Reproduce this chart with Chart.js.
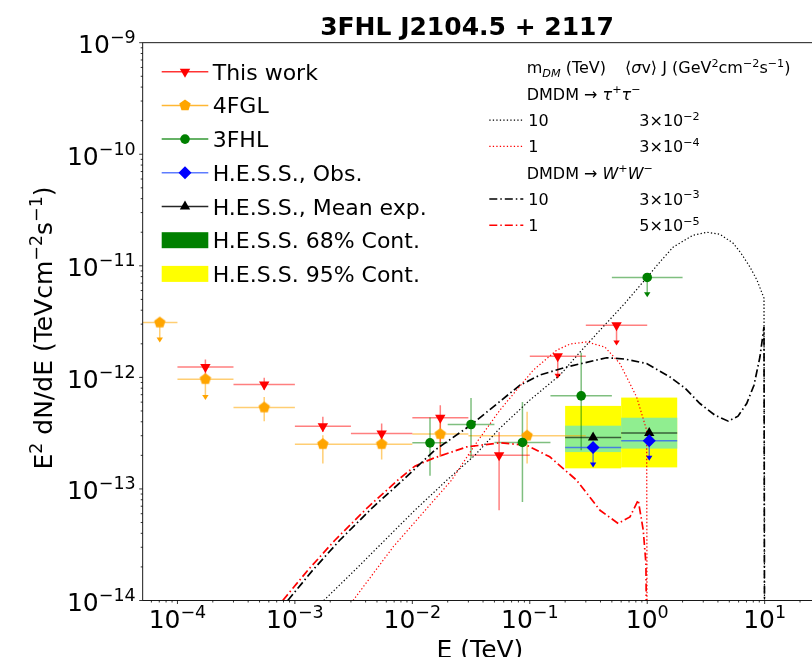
<!DOCTYPE html>
<html>
<head>
<meta charset="utf-8">
<script src="https://cdn.jsdelivr.net/npm/chart.js@4.4.0/dist/chart.umd.min.js"></script>
<style>
html, body { margin: 0; padding: 0; background: #fff; overflow: hidden; }
canvas { display: block; }
</style>
</head>
<body>
<canvas id="c" width="830" height="657"></canvas>
<script>
// This work (red, down triangles)
const twE = [1.73e-4, 5.48e-4, 1.73e-3, 5.48e-3, 1.73e-2, 5.48e-2, 0.173, 0.548];
const twLo = [1e-4, 3e-4, 1e-3, 3e-3, 1e-2, 3e-2, 0.1, 0.3];
const twHi = [3e-4, 1e-3, 3e-3, 1e-2, 3e-2, 0.1, 0.3, 1.0];
const twF = [1.24e-12, 8.63e-13, 3.65e-13, 3.14e-13, 4.34e-13, 2.0e-13, 1.55e-12, 2.94e-12];
const twUp = [1.45e-12, 9.9e-13, 4.43e-13, 3.86e-13, 5.63e-13, 3.24e-13, null, null];
const twDown = [1.05e-12, 7.7e-13, 3.24e-13, 2.55e-13, 1.94e-13, 6.44e-14, 9.84e-13, 1.95e-12];
const twUL = [0, 0, 0, 0, 0, 0, 1, 1];

// 4FGL (orange pentagons)
const fglE = [7.07e-5, 1.73e-4, 5.48e-4, 1.73e-3, 5.48e-3, 1.73e-2, 9.49e-2];
const fglLo = [5e-5, 1e-4, 3e-4, 1e-3, 3e-3, 1e-2, 3e-2];
const fglHi = [1e-4, 3e-4, 1e-3, 3e-3, 1e-2, 3e-2, 0.3];
const fglF = [3.1e-12, 9.64e-13, 5.37e-13, 2.52e-13, 2.52e-13, 3.1e-13, 3.0e-13];
const fglUp = [null, null, 6.68e-13, 3.03e-13, 2.92e-13, 4.13e-13, 4.91e-13];
const fglDown = [2.08e-12, 6.34e-13, 4.05e-13, 1.69e-13, 1.84e-13, 1.94e-13, 1.69e-13];
const fglUL = [1, 1, 0, 0, 0, 0, 0];

// 3FHL (green circles)
const fhlE = [0.01414, 0.0316, 0.0866, 0.274, 1.0];
const fhlLo = [0.01, 0.02, 0.05, 0.15, 0.5];
const fhlHi = [0.02, 0.05, 0.15, 0.5, 2.0];
const fhlF = [2.59e-13, 3.78e-13, 2.61e-13, 6.83e-13, 7.87e-12];
const fhlUp = [4.37e-13, 6.55e-13, 6.03e-13, 1.66e-12, null];
const fhlDown = [1.31e-13, 1.88e-13, 7.64e-14, 2.22e-13, 5.27e-12];
const fhlUL = [0, 0, 0, 0, 1];

// H.E.S.S.
const hessE = [0.346, 1.04];
const hessLo = [0.2, 0.6];
const hessHi = [0.6, 1.8];
const hessObs = [2.35e-13, 2.70e-13];
const hessObsDown = [1.57e-13, 1.81e-13];
const hessMean = [2.89e-13, 3.18e-13];
const hess68Lo = [2.14e-13, 2.3e-13];
const hess68Hi = [3.69e-13, 4.35e-13];
const hess95Lo = [1.53e-13, 1.56e-13];
const hess95Hi = [5.55e-13, 6.59e-13];

// DM model spectra
const tau10E = [1.76e-3, 3.24e-3, 5.83e-3, 1.05e-2, 1.97e-2, 3.40e-2, 5.56e-2, 0.100, 0.181, 0.267, 0.396, 0.646, 1.0, 1.28, 1.66, 2.45, 3.22, 4.16, 5.37, 6.28, 7.5, 8.6, 9.87, 10.0];
const tau10F = [1.0e-14, 1.87e-14, 3.47e-14, 6.44e-14, 1.20e-13, 2.0e-13, 3.50e-13, 6.25e-13, 1.05e-12, 1.68e-12, 2.65e-12, 4.62e-12, 7.92e-12, 1.08e-11, 1.47e-11, 1.88e-11, 2.0e-11, 1.92e-11, 1.60e-11, 1.30e-11, 9.75e-12, 7.45e-12, 5.13e-12, 1e-15];
const tau1E = [3.13e-3, 6.86e-3, 2.16e-2, 3.40e-2, 5.56e-2, 0.107, 0.169, 0.220, 0.305, 0.436, 0.585, 0.812, 0.989, 1.0];
const tau1F = [1e-14, 3.02e-14, 1.20e-13, 2.47e-13, 5.08e-13, 1.16e-12, 1.75e-12, 1.99e-12, 2.08e-12, 1.87e-12, 1.33e-12, 6.68e-13, 3.36e-13, 1e-15];
const ww10E = [8.70e-4, 1.42e-3, 2.41e-3, 4.61e-3, 8.30e-3, 1.55e-2, 3.19e-2, 8.24e-2, 0.122, 0.206, 0.451, 0.646, 0.989, 1.56, 2.10, 2.81, 3.77, 4.90, 5.93, 7.03, 8.11, 9.12, 9.87, 10.0];
const ww10F = [1e-14, 1.87e-14, 3.47e-14, 6.85e-14, 1.20e-13, 2.22e-13, 3.78e-13, 8.51e-13, 1.05e-12, 1.24e-12, 1.50e-12, 1.46e-12, 1.33e-12, 1.01e-12, 8.0e-13, 5.83e-13, 4.58e-13, 4.05e-13, 4.49e-13, 5.83e-13, 8.51e-13, 1.53e-12, 2.84e-12, 1e-15];
const ww1E = [7.88e-4, 1.29e-3, 2.19e-3, 4.18e-3, 7.52e-3, 1.05e-2, 1.50e-2, 2.90e-2, 5.56e-2, 9.39e-2, 0.148, 0.250, 0.325, 0.396, 0.566, 0.713, 0.838, 0.925, 0.975, 1.0];
const ww1F = [1e-14, 1.87e-14, 3.47e-14, 6.85e-14, 1.20e-13, 1.60e-13, 1.88e-13, 2.38e-13, 2.59e-13, 2.47e-13, 1.94e-13, 1.20e-13, 8.43e-14, 6.44e-14, 4.90e-14, 5.61e-14, 7.93e-14, 4.27e-14, 2.14e-14, 1e-15];

const xTickExp = [-4, -3, -2, -1, 0, 1];
const yTickExp = [-14, -13, -12, -11, -10, -9];

const FAM = '"DejaVu Sans"';
const DOT = [1.3, 2.2];
const DASHDOT = [8, 3, 1.5, 3];

function pts(E, F) { return E.map((e, i) => ({ x: e, y: F[i] })); }

function pentagon(color, r) {
    var cv = document.createElement('canvas');
    var s = Math.ceil(2 * r + 2);
    cv.width = cv.height = s;
    var g = cv.getContext('2d');
    g.fillStyle = color;
    g.beginPath();
    for (var k = 0; k < 5; k++) {
        var a = -Math.PI / 2 + k * 2 * Math.PI / 5;
        g.lineTo(s / 2 + r * Math.cos(a), s / 2 + r * Math.sin(a));
    }
    g.closePath();
    g.fill();
    return cv;
}

// parts: [text, mode]  0 normal, 1 sup, 2 sub, 3 italic, 4 italic sub
function rich(ctx, parts, x, y, size, align, bold) {
    var fnt = m => (m === 3 || m === 4 ? 'italic ' : '') + (bold ? 'bold ' : '') + ((m === 1 || m === 2 || m === 4) ? size * 0.7 : size) + 'px ' + FAM;
    var w = 0;
    parts.forEach(p => { ctx.font = fnt(p[1]); w += ctx.measureText(p[0]).width; });
    var cx = align === 'right' ? x - w : align === 'center' ? x - w / 2 : x;
    ctx.textAlign = 'left';
    ctx.textBaseline = 'alphabetic';
    parts.forEach(p => {
        ctx.font = fnt(p[1]);
        var dy = p[1] === 1 ? -size * 0.4 : (p[1] === 2 || p[1] === 4) ? size * 0.22 : 0;
        ctx.fillText(p[0], cx, y + dy);
        cx += ctx.measureText(p[0]).width;
    });
    return w;
}

function seg(ctx, x1, y1, x2, y2) {
    ctx.beginPath(); ctx.moveTo(x1, y1); ctx.lineTo(x2, y2); ctx.stroke();
}

function arrowHead(ctx, x, y, color) {
    ctx.save();
    ctx.fillStyle = color;
    ctx.beginPath();
    ctx.moveTo(x - 3.2, y - 4.5);
    ctx.lineTo(x + 3.2, y - 4.5);
    ctx.lineTo(x, y + 0.5);
    ctx.closePath();
    ctx.fill();
    ctx.restore();
}

function errBars(ctx, c, E, lo, hi, F, up, down, ul, line, head) {
    var sx = c.scales.x, sy = c.scales.y;
    ctx.save();
    ctx.strokeStyle = line;
    ctx.lineWidth = 1.5;
    for (var i = 0; i < E.length; i++) {
        var x = sx.getPixelForValue(E[i]);
        var y = sy.getPixelForValue(F[i]);
        seg(ctx, sx.getPixelForValue(lo[i]), y, sx.getPixelForValue(hi[i]), y);
        if (ul[i]) {
            var y2 = sy.getPixelForValue(down[i]);
            seg(ctx, x, y, x, y2 - 3);
            arrowHead(ctx, x, y2, head);
        } else {
            seg(ctx, x, sy.getPixelForValue(up[i]), x, sy.getPixelForValue(down[i]));
        }
    }
    ctx.restore();
}

function marker(ctx, kind, x, y, color) {
    ctx.save();
    ctx.fillStyle = color;
    ctx.beginPath();
    if (kind === 'down' || kind === 'up') {
        var r = 6, s = kind === 'down' ? 1 : -1;
        ctx.moveTo(x, y + s * r);
        ctx.lineTo(x - r * 0.866, y - s * r / 2);
        ctx.lineTo(x + r * 0.866, y - s * r / 2);
    } else if (kind === 'pent') {
        for (var k = 0; k < 5; k++) {
            var a = -Math.PI / 2 + k * 2 * Math.PI / 5;
            ctx.lineTo(x + 6 * Math.cos(a), y + 6 * Math.sin(a));
        }
    } else if (kind === 'circle') {
        ctx.arc(x, y, 4.8, 0, Math.PI * 2);
    } else if (kind === 'diamond') {
        ctx.moveTo(x, y - 6.5); ctx.lineTo(x + 6.5, y); ctx.lineTo(x, y + 6.5); ctx.lineTo(x - 6.5, y);
    }
    ctx.closePath();
    ctx.fill();
    ctx.restore();
}

const deco = {
    id: 'deco',
    beforeDatasetsDraw(c) {
        var ctx = c.ctx, a = c.chartArea, sx = c.scales.x, sy = c.scales.y;
        ctx.save();
        ctx.beginPath();
        ctx.rect(a.left, a.top, a.right - a.left, a.bottom - a.top);
        ctx.clip();
        for (var i = 0; i < hessE.length; i++) {
            var x1 = sx.getPixelForValue(hessLo[i]), x2 = sx.getPixelForValue(hessHi[i]);
            ctx.fillStyle = '#ffff00';
            ctx.fillRect(x1, sy.getPixelForValue(hess95Hi[i]), x2 - x1, sy.getPixelForValue(hess95Lo[i]) - sy.getPixelForValue(hess95Hi[i]));
            ctx.fillStyle = '#90ee90';
            ctx.fillRect(x1, sy.getPixelForValue(hess68Hi[i]), x2 - x1, sy.getPixelForValue(hess68Lo[i]) - sy.getPixelForValue(hess68Hi[i]));
        }
        errBars(ctx, c, fglE, fglLo, fglHi, fglF, fglUp, fglDown, fglUL, 'rgba(255,165,0,0.55)', '#ffa500');
        errBars(ctx, c, twE, twLo, twHi, twF, twUp, twDown, twUL, 'rgba(255,0,0,0.5)', '#ff0000');
        errBars(ctx, c, fhlE, fhlLo, fhlHi, fhlF, fhlUp, fhlDown, fhlUL, 'rgba(0,128,0,0.5)', '#008000');
        ctx.lineWidth = 1.5;
        for (var j = 0; j < hessE.length; j++) {
            var xa = sx.getPixelForValue(hessLo[j]), xb = sx.getPixelForValue(hessHi[j]), xc = sx.getPixelForValue(hessE[j]);
            ctx.strokeStyle = 'rgba(0,0,0,0.6)';
            seg(ctx, xa, sy.getPixelForValue(hessMean[j]), xb, sy.getPixelForValue(hessMean[j]));
            ctx.strokeStyle = 'rgba(40,80,255,0.7)';
            seg(ctx, xa, sy.getPixelForValue(hessObs[j]), xb, sy.getPixelForValue(hessObs[j]));
            var yb = sy.getPixelForValue(hessObsDown[j]);
            seg(ctx, xc, sy.getPixelForValue(hessObs[j]), xc, yb - 3);
            arrowHead(ctx, xc, yb, '#0000ff');
        }
        ctx.restore();
    },
    afterDraw(c) {
        var ctx = c.ctx, a = c.chartArea, sx = c.scales.x, sy = c.scales.y;
        ctx.save();
        // frame
        ctx.strokeStyle = '#000';
        ctx.lineWidth = 0.9;
        ctx.strokeRect(a.left, a.top, a.right - a.left, a.bottom - a.top);
        // ticks
        ctx.lineWidth = 0.8;
        for (var d = -15; d <= 2; d++) {
            for (var m = 1; m <= 9; m++) {
                var v = m * Math.pow(10, d);
                var len = m === 1 ? 3.5 : 2;
                var X = sx.getPixelForValue(v);
                if (X >= a.left - 0.5 && X <= a.right + 0.5) seg(ctx, X, a.bottom, X, a.bottom + len);
                var Y = sy.getPixelForValue(v);
                if (Y >= a.top - 0.5 && Y <= a.bottom + 0.5) seg(ctx, a.left, Y, a.left - len, Y);
            }
        }
        ctx.fillStyle = '#000';
        xTickExp.forEach(e => {
            var X = sx.getPixelForValue(Math.pow(10, e));
            rich(ctx, [['10', 0], [e < 0 ? '\u2212' + (-e) : String(e), 1]], X, a.bottom + 27, 25, 'center');
        });
        yTickExp.forEach(e => {
            var Y = sy.getPixelForValue(Math.pow(10, e));
            rich(ctx, [['10', 0], ['\u2212' + (-e), 1]], a.left - 7, Y + 10.5, 25, 'right');
        });
        // axis labels
        rich(ctx, [['E (TeV)', 0]], 480, 658, 25, 'center');
        ctx.save();
        ctx.translate(52, 328);
        ctx.rotate(-Math.PI / 2);
        rich(ctx, [['E', 0], ['2', 1], [' dN/dE (TeVcm', 0], ['\u22122', 1], ['s', 0], ['\u22121', 1], [')', 0]], 0, 0, 25, 'center');
        ctx.restore();
        // title
        rich(ctx, [['3FHL J2104.5 + 2117', 0]], 467, 35, 25, 'center', true);

        // left legend
        var rows = [
            ['This work', 'down', '#ff0000', 'rgba(255,0,0,0.8)'],
            ['4FGL', 'pent', '#ffa500', 'rgba(255,165,0,0.8)'],
            ['3FHL', 'circle', '#008000', 'rgba(0,128,0,0.8)'],
            ['H.E.S.S., Obs.', 'diamond', '#0000ff', 'rgba(40,80,255,0.75)'],
            ['H.E.S.S., Mean exp.', 'up', '#000000', 'rgba(0,0,0,0.85)'],
            ['H.E.S.S. 68% Cont.', 'patch', '#008000'],
            ['H.E.S.S. 95% Cont.', 'patch', '#ffff00']
        ];
        rows.forEach((r, i) => {
            var yc = 71.7 + i * 33.7;
            if (r[1] === 'patch') {
                ctx.fillStyle = r[2];
                ctx.fillRect(161.7, yc - 8, 46.6, 16);
            } else {
                ctx.strokeStyle = r[3];
                ctx.lineWidth = 1.5;
                seg(ctx, 161.7, yc, 208.3, yc);
                marker(ctx, r[1], 185, yc, r[2]);
            }
            ctx.fillStyle = '#000';
            rich(ctx, [[r[0], 0]], 212.7, yc + 8, 22, 'left');
        });

        // DM legend
        var fs = 16, ry = i => 67.5 + i * 26.3 + 5.8;
        ctx.fillStyle = '#000';
        rich(ctx, [['m', 0], ['DM', 4], [' (TeV)', 0]], 526.7, ry(0), fs, 'left');
        rich(ctx, [['\u27e8', 0], ['\u03c3', 3], ['v\u27e9 J (GeV', 0], ['2', 1], ['cm', 0], ['\u22122', 1], ['s', 0], ['\u22121', 1], [')', 0]], 625, ry(0), fs, 'left');
        rich(ctx, [['DMDM \u2192 ', 0], ['\u03c4', 3], ['+', 1], ['\u03c4', 3], ['\u2212', 1]], 526.7, ry(1), fs, 'left');
        rich(ctx, [['DMDM \u2192 ', 0], ['W', 3], ['+', 1], ['W', 3], ['\u2212', 1]], 526.7, ry(4), fs, 'left');
        var dm = [
            [2, '#000000', DOT, 1.2, '10', '3', '\u22122'],
            [3, '#ff0000', DOT, 1.2, '1', '3', '\u22124'],
            [5, '#000000', DASHDOT, 1.6, '10', '3', '\u22123'],
            [6, '#ff0000', DASHDOT, 1.6, '1', '5', '\u22125']
        ];
        dm.forEach(r => {
            var yc = 67.5 + r[0] * 26.3;
            ctx.save();
            ctx.strokeStyle = r[1];
            ctx.lineWidth = r[3];
            ctx.setLineDash(r[2]);
            seg(ctx, 489.3, yc, 523.3, yc);
            ctx.restore();
            ctx.fillStyle = '#000';
            rich(ctx, [[r[4], 0]], 528.3, yc + 5.8, fs, 'left');
            rich(ctx, [[r[5] + '\u00d710', 0], [r[6], 1]], 639.3, yc + 5.8, fs, 'left');
        });
        ctx.restore();
    }
};

const datasets = [
    { label: 'This work', data: pts(twE, twF), showLine: false, pointStyle: 'triangle', pointRotation: 180, pointRadius: 6, pointBackgroundColor: '#ff0000', pointBorderWidth: 0 },
    { label: 'H.E.S.S., Obs.', data: pts(hessE, hessObs), showLine: false, pointStyle: 'rectRot', pointRadius: 6.5, pointBackgroundColor: '#0000ff', pointBorderWidth: 0 },
    { label: 'H.E.S.S., Mean exp.', data: pts(hessE, hessMean), showLine: false, pointStyle: 'triangle', pointRadius: 6, pointBackgroundColor: '#000000', pointBorderWidth: 0 },
    { label: '3FHL', data: pts(fhlE, fhlF), showLine: false, pointStyle: 'circle', pointRadius: 4.8, pointBackgroundColor: '#008000', pointBorderWidth: 0 },
    { label: '4FGL', data: pts(fglE, fglF), showLine: false, pointStyle: pentagon('#ffa500', 6), pointBorderWidth: 0 },
    { label: 'tau 10', data: pts(tau10E, tau10F), borderColor: '#000000', borderWidth: 1.2, borderDash: DOT, pointRadius: 0 },
    { label: 'tau 1', data: pts(tau1E, tau1F), borderColor: '#ff0000', borderWidth: 1.2, borderDash: DOT, pointRadius: 0 },
    { label: 'WW 10', data: pts(ww10E, ww10F), borderColor: '#000000', borderWidth: 1.7, borderDash: DASHDOT, pointRadius: 0 },
    { label: 'WW 1', data: pts(ww1E, ww1F), borderColor: '#ff0000', borderWidth: 1.7, borderDash: DASHDOT, pointRadius: 0 }
];

new Chart(document.getElementById('c'), {
    type: 'line',
    data: { datasets: datasets },
    options: {
        responsive: false,
        animation: false,
        devicePixelRatio: 1,
        layout: { padding: { left: 142.7, top: 42.7, right: 13, bottom: 56.5 } },
        scales: {
            x: { type: 'logarithmic', display: false, min: 5.06e-5, max: 27.9 },
            y: { type: 'logarithmic', display: false, min: 1e-14, max: 1e-9 }
        },
        plugins: { legend: { display: false }, tooltip: { enabled: false } }
    },
    plugins: [deco]
});
</script>
</body>
</html>
